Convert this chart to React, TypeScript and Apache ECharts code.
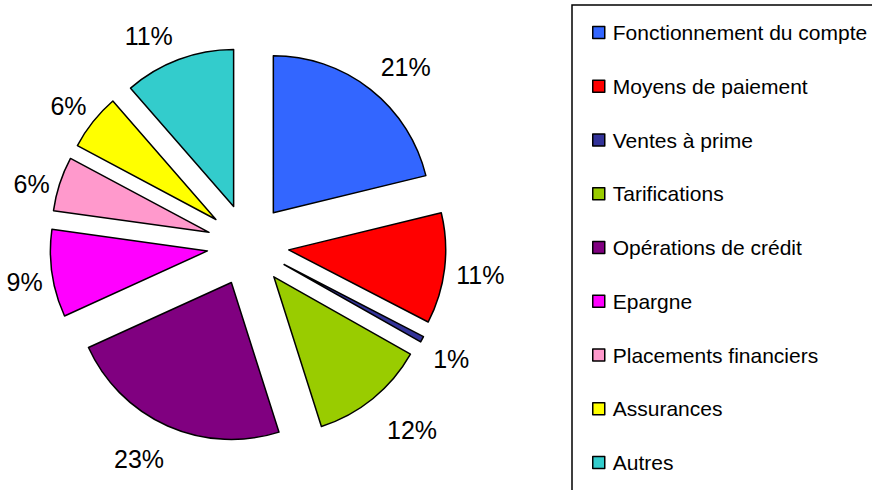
import React, { useEffect, useRef } from "react";
import * as echarts from "echarts";

const categories = [
  "Fonctionnement du compte",
  "Moyens de paiement",
  "Ventes à prime",
  "Tarifications",
  "Opérations de crédit",
  "Epargne",
  "Placements financiers",
  "Assurances",
  "Autres",
];
const values = [21.2, 11.4, 0.6, 11.9, 23.1, 9.0, 5.6, 5.8, 11.4];
const colors = [
  "#3366FF",
  "#FF0000",
  "#333399",
  "#99CC00",
  "#800080",
  "#FF00FF",
  "#FF99CC",
  "#FFFF00",
  "#33CCCC",
];
// label placement (labelLine length / length2, line hidden)
const labelLen1 = [28, 50, 41, 40, 36, 62, 0, 25, 25];
const labelLen2 = [-12, -43, -30, -16, -16, -57, 5, -18, -8];

export default function App() {
  const ref = useRef<HTMLDivElement>(null);
  useEffect(() => {
    document.body.style.margin = "0";
    if (!ref.current) return;
    const chart = echarts.init(ref.current, undefined, { renderer: "svg" });
    const font = "'Liberation Sans', Arial, sans-serif";
    chart.setOption({
      animation: false,
      color: colors,
      textStyle: { fontFamily: font },
      graphic: [
        {
          type: "rect",
          shape: { x: 572, y: 5, width: 320, height: 500 },
          style: { fill: "none", stroke: "#000", lineWidth: 1.5 },
          silent: true,
        },
      ],
      legend: {
        orient: "vertical",
        left: 592,
        top: 22,
        padding: 0,
        itemWidth: 12,
        itemHeight: 12,
        itemGap: 32.75,
        icon: "rect",
        selectedMode: false,
        itemStyle: { borderColor: "#000", borderWidth: 1.5 },
        textStyle: { fontSize: 21, color: "#000", fontFamily: font, padding: [0, 0, 0, 3] },
        data: categories,
      },
      series: [
        {
          type: "pie",
          center: [248, 245],
          radius: 157,
          startAngle: 90,
          clockwise: true,
          selectedMode: "multiple",
          selectedOffset: 41,
          avoidLabelOverlap: false,
          percentPrecision: 0,
          itemStyle: { borderColor: "#000", borderWidth: 1.5 },
          emphasis: { disabled: true },
          label: {
            show: true,
            position: "outside",
            formatter: "{d}%",
            fontSize: 25,
            color: "#000",
            fontFamily: font,
            distanceToLabelLine: 5,
          },
          data: categories.map((name, i) => ({
            name,
            value: values[i],
            selected: true,
            labelLine: { show: false, length: labelLen1[i], length2: labelLen2[i] },
          })),
        },
      ],
    });
    return () => chart.dispose();
  }, []);
  return <div ref={ref} style={{ width: 872, height: 490 }} />;
}
